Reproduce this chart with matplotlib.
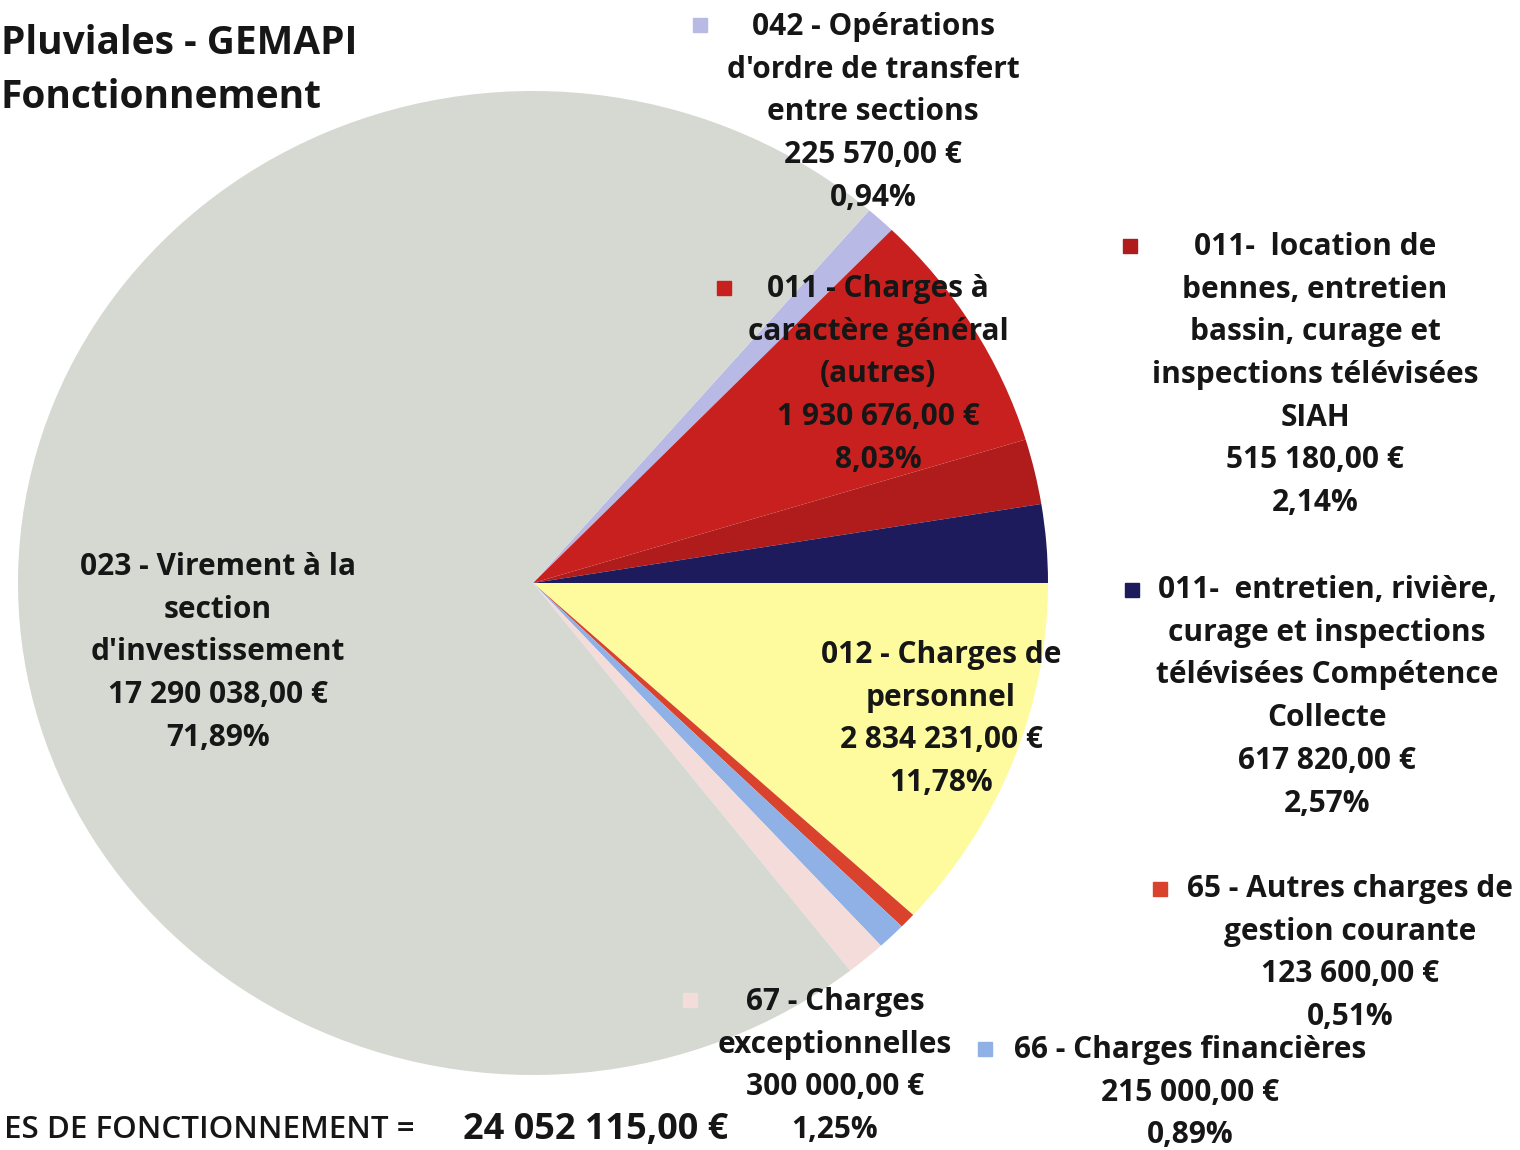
import matplotlib.pyplot as plt

# data (clockwise from the top)
categories = [
    "042 - Opérations\nd'ordre de transfert\nentre sections",
    "011 - Charges à\ncaractère général\n(autres)",
    "011-  location de\nbennes, entretien\nbassin, curage et\ninspections télévisées\nSIAH",
    "011-  entretien, rivière,\ncurage et inspections\ntélévisées Compétence\nCollecte",
    "012 - Charges de\npersonnel",
    "65 - Autres charges de\ngestion courante",
    "66 - Charges financières",
    "67 - Charges\nexceptionnelles",
    "023 - Virement à la\nsection\nd'investissement",
]
values = [225570.00, 1930676.00, 515180.00, 617820.00, 2834231.00,
          123600.00, 215000.00, 300000.00, 17290038.00]
colors = ['#b9b9e6', '#c8201e', '#b01b1b', '#1d1b5c', '#fdfb9e',
          '#d9432e', '#8fb1e6', '#f3dcd9', '#d5d9d1']
total = sum(values)

title_lines = ["Pluviales - GEMAPI", "Fonctionnement"]
total_text = "ES DE FONCTIONNEMENT ="

# layout in pixels: label centre x, first line y, marker position
label_pos = [(873, 27), (878, 289), (1315, 247), (1327, 590), (941, 655),
             (1350, 889), (1190, 1050), (835, 1002), (218, 567)]
marker_pos = [(700, 25), (724, 288), (1130, 246), (1132, 590), None,
              (1160, 889), (985, 1049), (690, 1000), None]

def euro(v):
    s = f"{v:,.2f}".replace(",", " ").replace(".", ",")
    return s + " €"

def pct(v):
    return f"{100 * v / total:.2f}".replace(".", ",") + "%"

W, H = 1520, 1150
fig = plt.figure(figsize=(W / 100, H / 100), dpi=100)
fig.patch.set_facecolor('white')

# pie axes, a bit wider than tall like the photo
cx, cy, rx, ry = 533, 583, 515, 492
ax = fig.add_axes([(cx - rx) / W, (H - cy - ry) / H, 2 * rx / W, 2 * ry / H])
start = 360 * sum(values[:4]) / total
ax.pie(values, colors=colors, startangle=start, counterclock=False,
       wedgeprops=dict(linewidth=0))
ax.set_aspect('auto')
ax.set_xlim(-1, 1)
ax.set_ylim(-1, 1)
ax.axis('off')

# overlay in pixel coordinates for the text
ov = fig.add_axes([0, 0, 1, 1])
ov.set_xlim(0, W)
ov.set_ylim(H, 0)
ov.axis('off')

fam = ['Open Sans', 'DejaVu Sans']
ink = '#161616'
dy = 42.7
for name, v, (x, y), m, c in zip(categories, values, label_pos, marker_pos, colors):
    lines = name.split("\n") + [euro(v), pct(v)]
    for i, line in enumerate(lines):
        ov.text(x, y + i * dy, line, ha='center', va='center', fontsize=21.5,
                fontweight='bold', color=ink, family=fam)
    if m is not None:
        ov.plot(m[0], m[1], marker='s', markersize=10, color=c, linestyle='none')

ov.text(1, 43, title_lines[0], ha='left', va='center', fontsize=28,
        fontweight='bold', color=ink, family=fam)
ov.text(1, 97, title_lines[1], ha='left', va='center', fontsize=28,
        fontweight='bold', color=ink, family=fam)

ov.text(415, 1130, total_text, ha='right', va='center', fontsize=22.5,
        fontweight='semibold', color=ink, family=fam)
ov.text(463, 1130, euro(total), ha='left', va='center', fontsize=26,
        fontweight='bold', color=ink, family=fam)

fig.savefig('out.png', dpi=100, facecolor='white')
